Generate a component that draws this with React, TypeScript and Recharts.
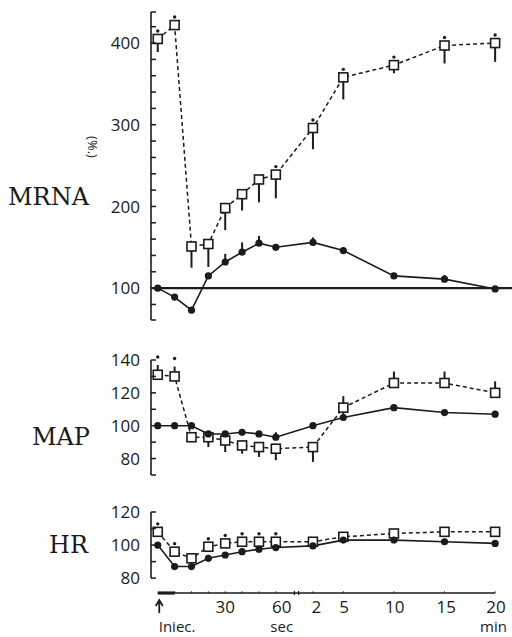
import { LineChart, Line, XAxis, YAxis, ErrorBar, ReferenceLine } from 'recharts';

const INK = '#1b1b1b';

// x positions of the sampling times (0 = injection), drawn through the x scale
const xPos = [0, 1, 2, 3, 4, 5, 6, 7, 9.2, 11, 14, 17, 20];
const xTicks = [0, 4, 7.35, 9.4, 11.05, 14.05, 17.1, 20.05];
const xTickLabels = ['↑', '30', '60', '2', '5', '10', '15', '20'];
const xUnitLabels = ['Iniec.', '', 'sec', '', '', '', '', 'min'];

// MRNA (%)
const mrnaOpen = [405, 422, 151, 154, 198, 215, 233, 239, 296, 358, 373, 397, 400];
const mrnaOpenDown = [16, 0, 26, 28, 27, 20, 28, 29, 26, 27, 10, 22, 23];
const mrnaOpenUp = [0, 0, 0, 0, 0, 0, 0, 0, 0, 0, 0, 0, 0];
const mrnaOpenSig = [1, 1, 0, 0, 0, 0, 0, 1, 1, 1, 1, 1, 1];
const mrnaFilled = [100, 89, 73, 115, 132, 144, 155, 150, 156, 146, 115, 111, 99];
const mrnaFilledUp = [0, 0, 0, 0, 10, 12, 9, 0, 6, 0, 0, 5, 0];

// MAP
const mapOpen = [131, 130, 93, 93, 91, 88, 87, 86, 87, 111, 126, 126, 120];
const mapOpenDown = [0, 0, 3, 6, 7, 5, 6, 7, 9, 0, 0, 0, 0];
const mapOpenUp = [6, 6, 0, 0, 0, 0, 0, 0, 0, 7, 7, 7, 7];
const mapOpenSig = [1, 1, 0, 0, 0, 0, 0, 0, 0, 0, 0, 0, 0];
const mapFilled = [100, 100, 100, 95, 95, 96, 95, 93, 100, 105, 111, 108, 107];
const mapFilledUp = [0, 0, 0, 0, 0, 0, 0, 3, 0, 3, 0, 0, 0];

// HR
const hrOpen = [108, 96, 92, 99, 101, 102, 102, 102, 102, 105, 107, 108, 108];
const hrOpenSig = [1, 1, 0, 1, 1, 1, 1, 1, 0, 0, 0, 0, 0];
const hrFilled = [100, 87, 87, 92, 94, 96, 97.5, 98.5, 99.5, 103, 103, 102, 101];

const zeros = xPos.map(() => 0);

function buildRows(open: number[], down: number[], up: number[], sig: number[], filled: number[], fUp: number[]) {
  return xPos.map((x, i) => ({
    x,
    open: open[i],
    openErr: [down[i], up[i]],
    filled: filled[i],
    filledErr: [0, fUp[i]],
    star: sig[i] ? open[i] + up[i] : null,
  }));
}

const mrnaRows = buildRows(mrnaOpen, mrnaOpenDown, mrnaOpenUp, mrnaOpenSig, mrnaFilled, mrnaFilledUp);
const mapRows = buildRows(mapOpen, mapOpenDown, mapOpenUp, mapOpenSig, mapFilled, mapFilledUp);
const hrRows = buildRows(hrOpen, zeros, zeros, hrOpenSig, hrFilled, zeros);

const X_DOMAIN: [number, number] = [-0.4, 21];
const NUM_FONT = '"Open Sans", "DejaVu Sans", sans-serif';

function SquareDot(props: any) {
  const { cx, cy, index } = props;
  if (cx == null || cy == null) return <g key={index} />;
  return <rect key={index} x={cx - 4.5} y={cy - 4.5} width={9} height={9} fill="#fff" stroke={INK} strokeWidth={1.6} />;
}

function CircleDot(props: any) {
  const { cx, cy, index } = props;
  if (cx == null || cy == null) return <g key={index} />;
  return <circle key={index} cx={cx} cy={cy} r={3.6} fill={INK} />;
}

function StarDot(props: any) {
  const { cx, cy, index } = props;
  if (cx == null || cy == null) return <g key={index} />;
  return <circle key={index} cx={cx} cy={cy - 8} r={1.7} fill={INK} />;
}

function makeYTick(labels: number[]) {
  return (props: any) => {
    const { x, y, payload } = props;
    const v = payload.value;
    return (
      <g>
        <line x1={x} y1={y} x2={x + 5} y2={y} stroke={INK} strokeWidth={1.5} />
        {labels.includes(v) && (
          <text x={x - 11} y={y} dy="0.36em" textAnchor="end" fontFamily={NUM_FONT} fontSize={17} fill={INK}>
            {v}
          </text>
        )}
      </g>
    );
  };
}

function XTick(props: any) {
  const { x, y, index } = props;
  const label = xTickLabels[index];
  const unit = xUnitLabels[index];
  const last = index === xTicks.length - 1;
  return (
    <g>
      {label === '↑' ? (
        <path d={`M${x + 1.5},${y + 20} L${x + 1.5},${y + 9} M${x - 2},${y + 13} L${x + 1.5},${y + 7} L${x + 5},${y + 13}`} stroke={INK} strokeWidth={1.8} fill="none" />
      ) : (
        <text x={x} y={y + 20} textAnchor="middle" fontFamily={NUM_FONT} fontSize={17} fill={INK}>
          {label}
        </text>
      )}
      {unit && (
        <text
          x={index === 0 ? x + 1 : last ? x + 11 : x}
          y={y + 39}
          textAnchor={index === 0 ? 'start' : last ? 'end' : 'middle'}
          fontFamily={NUM_FONT}
          fontSize={15}
          fill={INK}
        >
          {unit}
        </text>
      )}
    </g>
  );
}

function panelLines(rows: any[]) {
  return [
    <Line key="open" data={rows} dataKey="open" type="linear" stroke={INK} strokeWidth={1.5} strokeDasharray="4 3" dot={SquareDot} activeDot={false} isAnimationActive={false}>
      <ErrorBar dataKey="openErr" direction="y" width={0} stroke={INK} strokeWidth={2} />
    </Line>,
    <Line key="filled" data={rows} dataKey="filled" type="linear" stroke={INK} strokeWidth={1.6} dot={CircleDot} activeDot={false} isAnimationActive={false}>
      <ErrorBar dataKey="filledErr" direction="y" width={0} stroke={INK} strokeWidth={2} />
    </Line>,
    <Line key="star" data={rows} dataKey="star" stroke="none" dot={StarDot} activeDot={false} isAnimationActive={false} />,
  ];
}

export default function App() {
  return (
    <div style={{ position: 'absolute', left: 0, top: 0, width: 512, height: 637, background: '#fff' }}>
      {/* MRNA panel */}
      <div style={{ position: 'absolute', left: 0, top: 0 }}>
        <LineChart width={512} height={330} data={mrnaRows} margin={{ top: 12, right: 0, bottom: 10, left: 91 }}>
          <XAxis dataKey="x" type="number" domain={X_DOMAIN} hide />
          <YAxis
            type="number"
            domain={[61, 438]}
            ticks={[61, 80, 100, 120, 140, 160, 180, 200, 220, 240, 260, 280, 300, 320, 340, 360, 380, 400, 420, 438]}
            interval={0}
            width={60}
            tickSize={0}
            tickMargin={0}
            tickLine={false}
            axisLine={{ stroke: INK, strokeWidth: 1.6 }}
            tick={makeYTick([100, 200, 300, 400])}
          />
          <ReferenceLine y={100} stroke={INK} strokeWidth={2.4} />
          {panelLines(mrnaRows)}
        </LineChart>
      </div>

      {/* MAP panel */}
      <div style={{ position: 'absolute', left: 0, top: 345 }}>
        <LineChart width={512} height={140} data={mapRows} margin={{ top: 15, right: 0, bottom: 10, left: 91 }}>
          <XAxis dataKey="x" type="number" domain={X_DOMAIN} hide />
          <YAxis
            type="number"
            domain={[70, 140]}
            ticks={[70, 80, 90, 100, 110, 120, 130, 140]}
            interval={0}
            width={60}
            tickSize={0}
            tickMargin={0}
            tickLine={false}
            axisLine={{ stroke: INK, strokeWidth: 1.6 }}
            tick={makeYTick([80, 100, 120, 140])}
          />
          {panelLines(mapRows)}
        </LineChart>
      </div>

      {/* HR panel with time axis */}
      <div style={{ position: 'absolute', left: 0, top: 495 }}>
        <LineChart width={512} height={142} data={hrRows} margin={{ top: 17, right: 0, bottom: 0, left: 91 }}>
          <XAxis
            dataKey="x"
            type="number"
            domain={X_DOMAIN}
            ticks={xTicks}
            interval={0}
            height={44}
            tickSize={0}
            tickMargin={0}
            axisLine={false}
            tickLine={false}
            tick={XTick}
          />
          <YAxis
            type="number"
            domain={[71, 120]}
            ticks={[80, 90, 100, 110, 120]}
            interval={0}
            width={60}
            tickSize={0}
            tickMargin={0}
            tickLine={false}
            axisLine={false}
            tick={makeYTick([80, 100, 120])}
          />
          <ReferenceLine segment={[{ x: -0.4, y: 80 }, { x: -0.4, y: 120 }]} stroke={INK} strokeWidth={1.6} ifOverflow="visible" />
          <ReferenceLine segment={[{ x: 0, y: 71 }, { x: 20, y: 71 }]} stroke={INK} strokeWidth={1.5} ifOverflow="visible" />
          <ReferenceLine segment={[{ x: 0, y: 71 }, { x: 1, y: 71 }]} stroke={INK} strokeWidth={3.2} ifOverflow="visible" />
          <ReferenceLine segment={[{ x: 8.1, y: 69.8 }, { x: 8.1, y: 72.2 }]} stroke={INK} strokeWidth={1.3} ifOverflow="visible" />
          <ReferenceLine segment={[{ x: 8.35, y: 69.8 }, { x: 8.35, y: 72.2 }]} stroke={INK} strokeWidth={1.3} ifOverflow="visible" />
          {xPos.slice(1).map((x) => (
            <ReferenceLine key={x} segment={[{ x, y: 71 }, { x, y: 72 }]} stroke={INK} strokeWidth={1} ifOverflow="visible" />
          ))}
          {panelLines(hrRows)}
        </LineChart>
      </div>

      {/* panel titles */}
      <svg width={512} height={637} style={{ position: 'absolute', left: 0, top: 0, pointerEvents: 'none' }}>
        <g fontFamily='"DejaVu Serif", serif' fontSize={24} fill={INK} textAnchor="end">
          <text x={89} y={205}>MRNA</text>
          <text x={90} y={445}>MAP</text>
          <text x={88} y={553}>HR</text>
        </g>
        <text x={93} y={147} transform="rotate(90 93 147)" textAnchor="middle" dy="0.35em" fontFamily={NUM_FONT} fontSize={13} fill={INK}>
          (%.)
        </text>
      </svg>
    </div>
  );
}
